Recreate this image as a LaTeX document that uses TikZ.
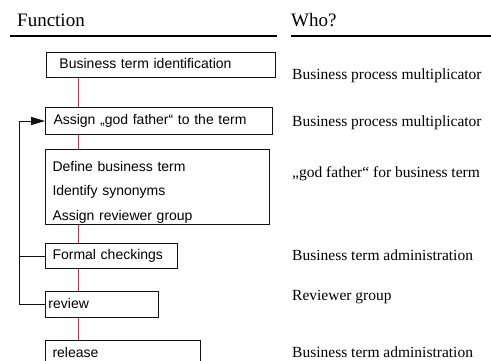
\documentclass[tikz,border=0pt]{standalone}
\usepackage{fontspec}
\setmainfont{Liberation Serif}
\newfontfamily\boxfont{Liberation Sans}
\usetikzlibrary{arrows.meta,positioning}
\definecolor{spine}{HTML}{E5254B}
\definecolor{ink}{HTML}{111111}

\begin{document}
\begin{tikzpicture}[x=1pt, y=-1pt, >={Triangle[length=14pt,width=8pt]},
  fbox/.style={draw=ink, line width=1pt, anchor=north west, align=left, inner ysep=0pt,
    font=\boxfont\fontsize{14}{16}\selectfont},
  oneline/.style={text height=10pt, text depth=3pt},
  who/.style={anchor=base west, inner sep=0pt, font=\fontsize{15.5}{18}\selectfont},
  head/.style={anchor=base west, inner sep=0pt, font=\fontsize{19}{22}\selectfont}]
  \useasboundingbox (0,0) rectangle (491,360);
  % column heads
  \node[head] (hfun) at (17,26) {Function};
  \node[head] (hwho) at (291,26) {Who?};
  \draw[line width=1.3pt] (10,36) -- (277,36);
  \draw[line width=1.3pt] (291,36) -- (491,36);
  % function boxes
  \node[fbox, oneline, inner xsep=13pt, text width=203pt, minimum height=25pt] (ident) at (46,52) {Business term identification};
  \node[fbox, oneline, inner xsep=8pt, text width=211pt, minimum height=27pt] (godf) at (45,107) {Assign „god father“ to the term};
  \node[fbox, inner xsep=7pt, text width=210pt, minimum height=75pt,
    font=\boxfont\fontsize{14}{24.5}\selectfont] (define) at (45,149) {\rule{0pt}{20pt}Define business term\\Identify synonyms\\Assign reviewer group};
  \node[fbox, oneline, inner xsep=7pt, text width=118pt, minimum height=25pt] (formal) at (45,243) {Formal checkings};
  \node[fbox, oneline, inner xsep=3pt, text width=107pt, minimum height=26pt] (review) at (45,291) {review};
  \node[fbox, oneline, inner xsep=7pt, text width=141pt, minimum height=27pt] (release) at (45,340) {release};
  % who column
  \node[who] (wident) at (292,79) {Business process multiplicator};
  \node[who] (wgodf) at (292,126.5) {Business process multiplicator};
  \node[who] (wdefine) at (292,177) {„god father“ for business term};
  \node[who] (wformal) at (292,260) {Business term administration};
  \node[who] (wreview) at (292,300) {Reviewer group};
  \node[who] (wrelease) at (292,357) {Business term administration};
  % red spine
  \coordinate (spine) at (78,0);
  \foreach \a/\b in {ident/godf, godf/define, define/formal, formal/review, review/release}
    \draw[spine, line width=1pt] (\a.south -| spine) -- (\b.north -| spine);
  % feedback loop
  \coordinate (back) at (19,0);
  \draw[ink, line width=1pt, ->] (review.west) -- (review.west -| back) |- (godf.west);
  \draw[ink, line width=1pt] (formal.west) -- (formal.west -| back);
\end{tikzpicture}
\end{document}
